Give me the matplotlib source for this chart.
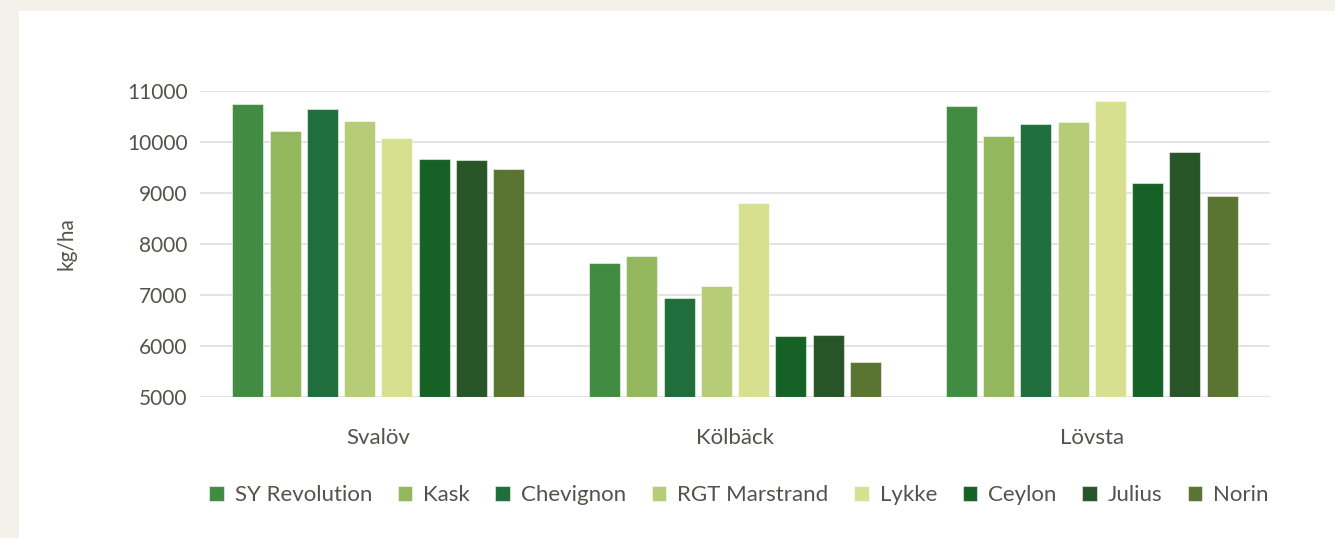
import matplotlib.pyplot as plt
import numpy as np
from matplotlib.patches import Rectangle

plt.rcParams['font.family'] = ['Lato', 'DejaVu Sans']

locations = ['Svalöv', 'Kölbäck', 'Lövsta']
varieties = ['SY Revolution', 'Kask', 'Chevignon', 'RGT Marstrand',
             'Lykke', 'Ceylon', 'Julius', 'Norin']
colors = ['#428b42', '#93b75c', '#1f6e3b', '#b6cc77',
          '#d7e08e', '#166126', '#285528', '#5a7432']

sy_revolution = [10740, 7620, 10700]
kask = [10220, 7760, 10120]
chevignon = [10640, 6950, 10350]
rgt_marstrand = [10420, 7180, 10390]
lykke = [10070, 8800, 10800]
ceylon = [9670, 6190, 9190]
julius = [9650, 6210, 9800]
norin = [9470, 5680, 8950]

series = [sy_revolution, kask, chevignon, rgt_marstrand,
          lykke, ceylon, julius, norin]

text_color = '#55524a'

fig = plt.figure(figsize=(13.35, 5.38), dpi=100)
fig.patch.set_facecolor('#f4f1eb')
# white card behind the chart
fig.patches.append(Rectangle((19 / 1335, 0), 1 - 19 / 1335, 1 - 11 / 538,
                             transform=fig.transFigure, facecolor='white',
                             edgecolor='none', zorder=-5))

ax = fig.add_axes([200 / 1335, 1 - 397 / 538, 1070 / 1335, 306 / 538])
ax.set_facecolor('none')

x = np.arange(len(locations))
pitch = 0.1045
width = 0.087
for i, (name, vals) in enumerate(zip(varieties, series)):
    offs = (i - 3.5) * pitch
    ax.bar(x + offs, np.array(vals) - 5000, bottom=5000, width=width,
           color=colors[i], edgecolor=(1, 1, 1, 0.5), linewidth=0.8,
           label=name, zorder=3)

ax.set_xlim(-0.5, 2.5)
ax.set_ylim(5000, 11000)
ax.set_yticks(np.arange(5000, 11001, 1000))
ax.yaxis.grid(True, color='#e3e3e3', linewidth=1.4, zorder=0)
ax.set_axisbelow(True)
for s in ax.spines.values():
    s.set_visible(False)
ax.tick_params(axis='both', length=0, colors=text_color)
ax.tick_params(axis='y', pad=9, labelsize=15)
ax.tick_params(axis='x', pad=22, labelsize=16)
ax.set_xticks(x)
ax.set_xticklabels(locations)
ax.set_ylabel('kg/ha', fontsize=15, color=text_color, labelpad=36)

leg = fig.legend(loc='center', bbox_to_anchor=(739 / 1335, 1 - 495 / 538),
                 ncol=8, frameon=False, fontsize=16,
                 handlelength=0.65, handleheight=0.65, handletextpad=0.5,
                 columnspacing=1.15, labelcolor=text_color)

fig.savefig('out.png', dpi=100, facecolor=fig.get_facecolor())
